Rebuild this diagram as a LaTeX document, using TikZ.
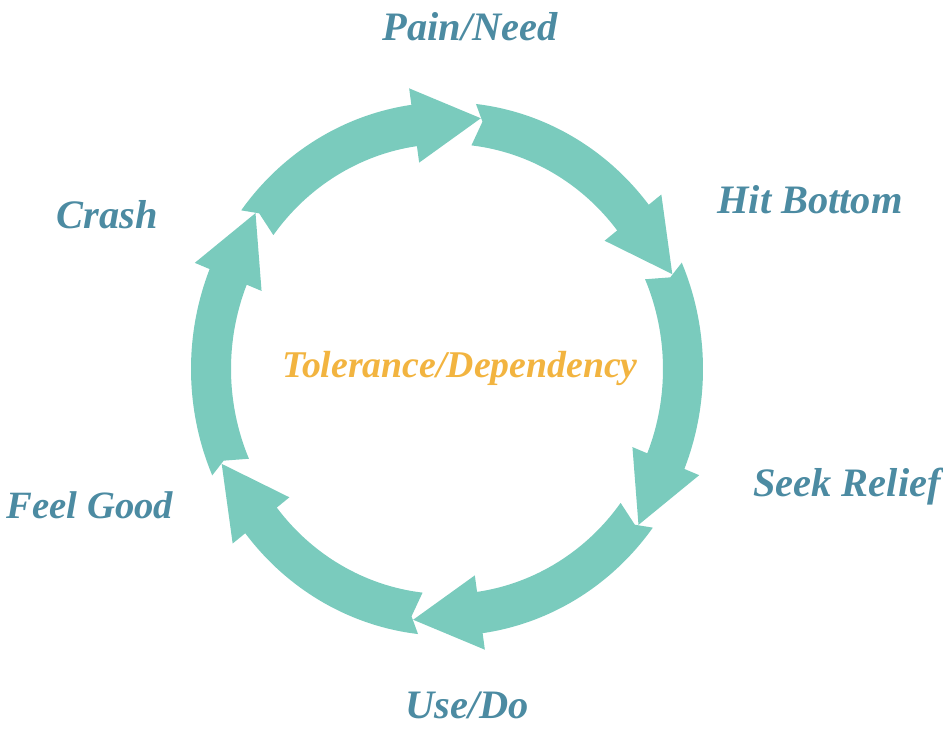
\documentclass[tikz,border=0pt]{standalone}
\usepackage{fontspec}
\setmainfont{Liberation Serif}
\usepackage{xcolor}
\usetikzlibrary{positioning}
\definecolor{ringteal}{RGB}{122,203,189}
\definecolor{stageblue}{RGB}{76,139,162}
\definecolor{coregold}{RGB}{242,180,64}

\begin{document}
\begin{tikzpicture}[x=0.02cm, y=0.02cm,
    stage/.style={text=stageblue, font=\fontsize{23}{27}\selectfont\bfseries\itshape, anchor=base, inner sep=0pt}]
    \useasboundingbox (-447,-359) rectangle (496,369);
    % ring of six curved arrows, clockwise
    \begin{scope}[yscale=1.042]
    \foreach \b in {98,38,-22,-82,-142,158}
        \fill[ringteal] (\b+45.5:256) arc[start angle=\b+45.5, end angle=\b, radius=256] -- (\b:272) -- (\b-16:243) -- (\b:200) -- (\b:216) arc[start angle=\b, end angle=\b+45.5, radius=216] -- (\b+43.5:240) -- cycle;
    \end{scope}
    % stages
    \node[stage] (pain) at (23,329) {Pain/Need};
    \node[stage] (bottom) at (363,156) {Hit Bottom};
    \node[stage] (relief) at (400,-127) {Seek Relief};
    \node[stage] (use) at (20,-349) {Use/Do};
    \node[stage, font=\fontsize{22}{26}\selectfont\bfseries\itshape] (good) at (-357,-149) {Feel Good};
    \node[stage] (crash) at (-340,141) {Crash};
    \node[stage, text=coregold, font=\fontsize{21.5}{25}\selectfont\bfseries\itshape] (core) at (13,-8) {Tolerance/Dependency};
\end{tikzpicture}
\end{document}
